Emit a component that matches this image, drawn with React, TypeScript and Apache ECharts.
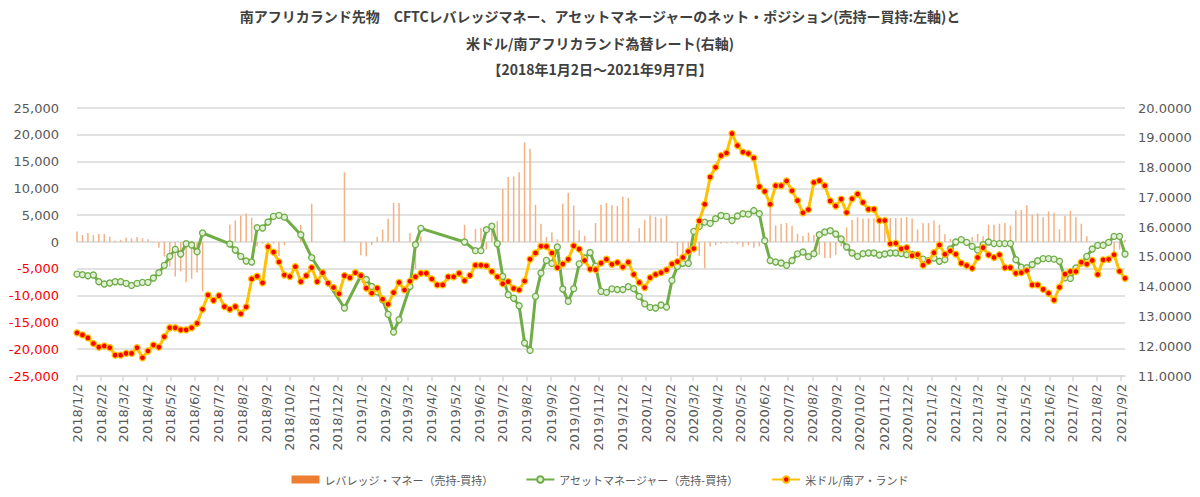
import React, { useEffect, useRef } from "react";
import * as echarts from "echarts";

// ---- text ----
const titleLines = [
  "南アフリカランド先物　CFTCレバレッジマネー、アセットマネージャーのネット・ポジション(売持ー買持:左軸)と",
  "米ドル/南アフリカランド為替レート(右軸)",
  "【2018年1月2日～2021年9月7日】",
];
const nameLev = "レバレッジ・マネー（売持-買持）";
const nameAsset = "アセットマネージャー（売持-買持）";
const nameFx = "米ドル/南ア・ランド";

// ---- calendar (weekly Tuesdays from 2018/1/2 to 2021/9/7) ----
const startDate = [2018, 1, 2];
const totalDays = 1344;
const weekStep = 7;

// ---- axis ranges / ticks ----
const leftTicks = { min: -25000, max: 25000, interval: 5000 };
const rightTicks = { min: 11, max: 20, interval: 1 };

// ---- series values (one per week, null = no data) ----
const usdZar = [
  12.45, 12.38, 12.28, 12.09, 11.97, 12.01, 11.95, 11.7, 11.7, 11.76,
  11.76, 11.95, 11.61, 11.84, 12.04, 11.97, 12.32, 12.62, 12.62, 12.55,
  12.55, 12.62, 12.77, 13.24, 13.72, 13.54, 13.7, 13.33, 13.24, 13.33,
  13.09, 13.32, 14.26, 14.35, 14.13, 15.34, 15.16, 14.83, 14.39, 14.34,
  14.67, 14.17, 14.37, 14.64, 14.17, 14.47, 14.12, 13.97, 13.76, 14.37,
  14.3, 14.47, 14.37, 13.95, 13.78, 13.95, 13.58, 13.41, 13.8, 14.14,
  13.89, 14.18, 14.33, 14.45, 14.45, 14.26, 14.06, 14.06, 14.33, 14.33,
  14.45, 14.2, 14.38, 14.72, 14.72, 14.7, 14.51, 14.33, 14.1, 14.17,
  13.94, 13.89, 14.19, 14.92, 15.13, 15.36, 15.35, 15.13, 14.64, 14.76,
  14.92, 15.37, 15.26, 14.88, 14.59, 14.57, 14.79, 14.92, 14.75, 14.81,
  14.66, 14.82, 14.41, 14.14, 13.97, 14.3, 14.41, 14.47, 14.56, 14.76,
  14.84, 14.98, 15.18, 15.28, 16.21, 16.77, 17.68, 18.01, 18.4, 18.49,
  19.14, 18.74, 18.52, 18.47, 18.32, 17.36, 17.2, 16.77, 17.39, 17.39,
  17.55, 17.22, 16.89, 16.48, 16.59, 17.5, 17.56, 17.39, 16.88, 16.71,
  16.94, 16.49, 16.95, 17.11, 16.83, 16.6, 16.6, 16.22, 16.22, 15.44,
  15.46, 15.27, 15.31, 15.04, 15.08, 14.72, 14.85, 15.14, 15.4, 15.09,
  15.2, 15.09, 14.79, 14.71, 14.62, 14.98, 15.31, 15.07, 14.98, 15.07,
  14.64, 14.64, 14.45, 14.47, 14.54, 14.06, 14.06, 13.91, 13.78, 13.55,
  13.98, 14.42, 14.51, 14.51, 14.82, 14.76, 14.88, 14.41, 14.9, 14.92,
  15.07, 14.52, 14.28,
];

const assetManager = [
  -6000, -6100, -6290, -6160, -7410, -7840, -7650, -7410, -7410, -7720,
  -8100, -7720, -7530, -7530, -6720, -5730, -4360, -2680, -1380, -2240,
  -320, -560, -1810, 1680, null, null, null, null, -370, -1490,
  -2680, -3550, -3730, 2670, 2610, 3730, 4780, 4970, 4630, null,
  null, 1350, null, -2930, null, null, null, null, null, -12320,
  null, null, -6300, -7000, -8300, -9300, -10800, -13500, -16800, -14500,
  null, -8300, -500, 2550, null, null, null, null, null, null,
  null, 0, null, -1620, -1620, 2300, 2950, -320, -6420, -9830,
  -10500, -11890, -18850, -20230, -10150, -5790, -3430, -4000, -930, -8770,
  -11080, -8710, -4080, -2990, -1960, -4500, -9210, -9400, -8740, -8870,
  -8870, -8340, -8710, -10150, -11540, -12200, -12320, -11760, -12130, -7160,
  -4550, -3980, -3980, 1980, 2910, 3700, 3480, 4350, 4940, 4780,
  4000, 4850, 5280, 5190, 5870, 5280, 240, -3460, -3730, -3920,
  -4360, -3460, -2210, -1870, -2740, -2180, 1360, 1870, 2110, 1490,
  560, -930, -2050, -2680, -2180, -2050, -2050, -2430, -2240, -2050,
  -2050, -2150, -2370, -2300, -2500, -3200, -3500, -3000, -3600, -3300,
  -1300, 0, 450, -70, -820, -1500, -500, 0, -300, -300,
  -300, -300, -3300, -4700, -4800, -4200, -3500, -3100, -3100, -3200,
  -3600, -6700, -6800, -4850, -3900, -2680, -1310, -630, -630, -70,
  1050, 1050, -2240,
];

const leveragedMoney = [
  1980, 1300, 1680, 1300, 1490, 1490, 990, 250, 400, 800,
  680, 930, 680, 530, -100, -1060, -2680, -4550, -6420, -5480,
  -7530, -6850, -5670, -9210, null, null, null, null, 3230, 4030,
  4910, 5340, 4530, -800, -300, -200, -300, -2600, -600, null,
  null, 3170, null, 7150, null, null, null, null, null, 12990,
  null, null, -2490, -2680, -500, 930, 2300, 4350, 7270, 7270,
  null, 1680, -5000, 1050, null, null, null, null, null, null,
  null, 3230, null, 2420, 2610, -1430, 2420, 3900, 9890, 12130,
  12250, 12990, 18600, 17410, 6930, 3410, 930, 1840, 500, 7150,
  9200, 6800, 2170, 1180, 100, 3540, 6960, 7270, 6840, 6700,
  8450, 8210, 100, 2550, 4160, 4970, 4700, 4450, 4940, -200,
  -2680, -2370, -2000, -2000, -2580, -4900, -870, -550, -300, -250,
  -200, -400, -900, -600, -1050, -800, -300, 6500, 3070, 3410,
  3540, 2970, 1550, 1140, 1740, 1370, -2400, -3000, -3000, -2400,
  -800, 2700, 4100, 4570, 4350, 4420, 4420, 4480, 4480, 4480,
  4480, 4480, 4660, 4380, 2360, 3540, 3540, 4030, 3230, 1430,
  560, 200, 100, 200, 930, 1500, 1050, 3230, 3200, 3410,
  3540, 3040, 5900, 5960, 6870, 5100, 5350, 4630, 5710, 5440,
  2360, 4910, 5840, 4630, 3410, 1050, 0, -100, 200, 100,
  -2700, -1400, 400,
];

function buildDays(): string[] {
  const out: string[] = [];
  for (let i = 0; i <= totalDays; i++) {
    const d = new Date(startDate[0], startDate[1] - 1, startDate[2] + i);
    out.push(`${d.getFullYear()}/${d.getMonth() + 1}/${d.getDate()}`);
  }
  return out;
}

function toPairs(values: (number | null)[]) {
  const out: [number, number][] = [];
  values.forEach((v, k) => {
    if (v !== null) out.push([k * weekStep, v]);
  });
  return out;
}

const FONT = "DejaVu Sans";
const CJK = "Noto Sans CJK JP";
const GRAY = "#595959";
const titleTops = [9, 36, 62];

export default function App() {
  const ref = useRef<HTMLDivElement>(null);

  useEffect(() => {
    if (!ref.current) return;
    const chart = echarts.init(ref.current, null, { renderer: "svg" });
    const days = buildDays();
    const isSecond = (_i: number, v: string) => v.split("/")[2] === "2";

    chart.setOption({
      animation: false,
      backgroundColor: "#ffffff",
      title: titleLines.map((t, i) => ({
        text: t,
        left: "center",
        top: titleTops[i],
        padding: 0,
        textStyle: {
          fontFamily: CJK,
          fontSize: 14,
          fontWeight: "bold",
          color: "#404040",
        },
      })),
      legend: {
        left: "center",
        top: 469,
        itemWidth: 28,
        itemHeight: 8,
        itemGap: 32,
        textStyle: { fontFamily: CJK, fontSize: 11, color: GRAY },
        data: [
          { name: nameLev, icon: "rect", itemStyle: { color: "#ED7D31" } },
          { name: nameAsset },
          { name: nameFx },
        ],
      },
      grid: { left: 77, right: 75, top: 108, bottom: 121, containLabel: false },
      xAxis: {
        type: "category",
        data: days,
        boundaryGap: false,
        axisLine: { onZero: false, lineStyle: { color: "#D9D9D9", width: 1.5 } },
        axisTick: {
          interval: isSecond,
          length: 5,
          lineStyle: { color: "#D9D9D9", width: 1.5 },
        },
        axisLabel: {
          interval: isSecond,
          rotate: 90,
          margin: 8,
          fontFamily: FONT,
          fontSize: 13,
          color: GRAY,
        },
        splitLine: { show: false },
      },
      yAxis: [
        {
          type: "value",
          min: leftTicks.min,
          max: leftTicks.max,
          interval: leftTicks.interval,
          axisLine: { show: false },
          axisTick: { show: false },
          splitLine: { lineStyle: { color: "#D9D9D9", width: 1.5 } },
          axisLabel: {
            margin: 18,
            fontFamily: FONT,
            fontSize: 13,
            color: (v: any) => (Number(v) < 0 ? "#FF0000" : GRAY),
            formatter: (v: number) => Number(v).toLocaleString("en-US"),
          },
        },
        {
          type: "value",
          min: rightTicks.min,
          max: rightTicks.max,
          interval: rightTicks.interval,
          axisLine: { show: false },
          axisTick: { show: false },
          splitLine: { show: false },
          axisLabel: {
            margin: 13,
            fontFamily: FONT,
            fontSize: 13,
            color: GRAY,
            formatter: (v: number) => Number(v).toFixed(4),
          },
        },
      ],
      series: [
        {
          name: nameLev,
          type: "bar",
          yAxisIndex: 0,
          barWidth: 1.5,
          z: 1,
          itemStyle: { color: "#F4B183" },
          data: toPairs(leveragedMoney),
        },
        {
          name: nameAsset,
          type: "line",
          yAxisIndex: 0,
          z: 2,
          showAllSymbol: true,
          symbol: "circle",
          symbolSize: 6,
          connectNulls: true,
          lineStyle: { color: "#70AD47", width: 3 },
          itemStyle: { color: "#E2F0D9", borderColor: "#70AD47", borderWidth: 1.3 },
          data: toPairs(assetManager),
        },
        {
          name: nameFx,
          type: "line",
          yAxisIndex: 1,
          z: 3,
          showAllSymbol: true,
          symbol: "circle",
          symbolSize: 6,
          lineStyle: { color: "#FFC000", width: 3 },
          itemStyle: { color: "#FF0000", borderColor: "#FFC000", borderWidth: 1.3 },
          data: toPairs(usdZar),
        },
      ],
    });

    return () => chart.dispose();
  }, []);

  return (
    <div
      ref={ref}
      style={{ position: "absolute", left: 0, top: 0, width: 1200, height: 497 }}
    />
  );
}
